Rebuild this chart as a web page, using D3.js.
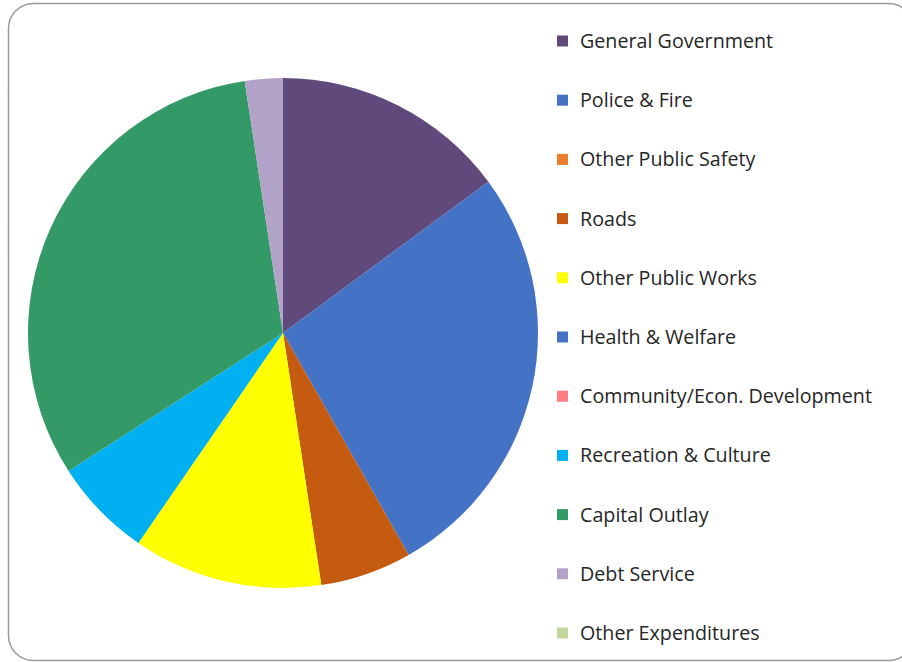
<!DOCTYPE html>
<html>
<head>
<meta charset="utf-8">
<script src="https://cdn.jsdelivr.net/npm/d3@7"></script>
<style>
  html, body { margin: 0; padding: 0; background: #fff; }
  svg { display: block; }
</style>
</head>
<body>
<svg id="chart" width="902" height="662"></svg>
<script>
// Expenditure categories (share of total, %)
const categories = [
  "General Government",
  "Police & Fire",
  "Other Public Safety",
  "Roads",
  "Other Public Works",
  "Health & Welfare",
  "Community/Econ. Development",
  "Recreation & Culture",
  "Capital Outlay",
  "Debt Service",
  "Other Expenditures"
];
const values = [14.9, 26.9, 0, 5.8, 12.0, 0, 0, 6.3, 31.7, 2.4, 0];
const colors = [
  "#604A7B", "#4472C4", "#ED7D31", "#C55A11", "#FFFF00",
  "#4472C4", "#FF7C80", "#00B0F0", "#339966", "#B3A2C7", "#C3D69B"
];

const data = categories.map((c, i) => ({ name: c, value: values[i], color: colors[i] }));

const svg = d3.select("#chart");

// Chart frame
svg.append("rect")
  .attr("x", 8.5).attr("y", 3.5)
  .attr("width", 905).attr("height", 657)
  .attr("rx", 25).attr("ry", 25)
  .attr("fill", "#fff")
  .attr("stroke", "#9a9a9a")
  .attr("stroke-width", 1.5);

// Pie
const cx = 283, cy = 333, radius = 255;
const pie = d3.pie().value(d => d.value).sort(null);
const arc = d3.arc().innerRadius(0).outerRadius(radius);

svg.append("g")
  .attr("transform", `translate(${cx},${cy})`)
  .selectAll("path")
  .data(pie(data))
  .join("path")
  .attr("d", arc)
  .attr("fill", d => d.data.color);

// Legend
const legendY = d3.scalePoint()
  .domain(categories)
  .range([41, 633]);

const legend = svg.append("g")
  .selectAll("g")
  .data(data)
  .join("g")
  .attr("transform", d => `translate(557,${legendY(d.name)})`);

legend.append("rect")
  .attr("x", 0).attr("y", -5.5)
  .attr("width", 11).attr("height", 11)
  .attr("fill", d => d.color);

legend.append("text")
  .attr("x", 23).attr("y", 0)
  .attr("dy", "0.35em")
  .attr("font-family", "'Open Sans', sans-serif")
  .attr("font-size", 19.7)
  .attr("fill", "#262626")
  .text(d => d.name);
</script>
</body>
</html>
